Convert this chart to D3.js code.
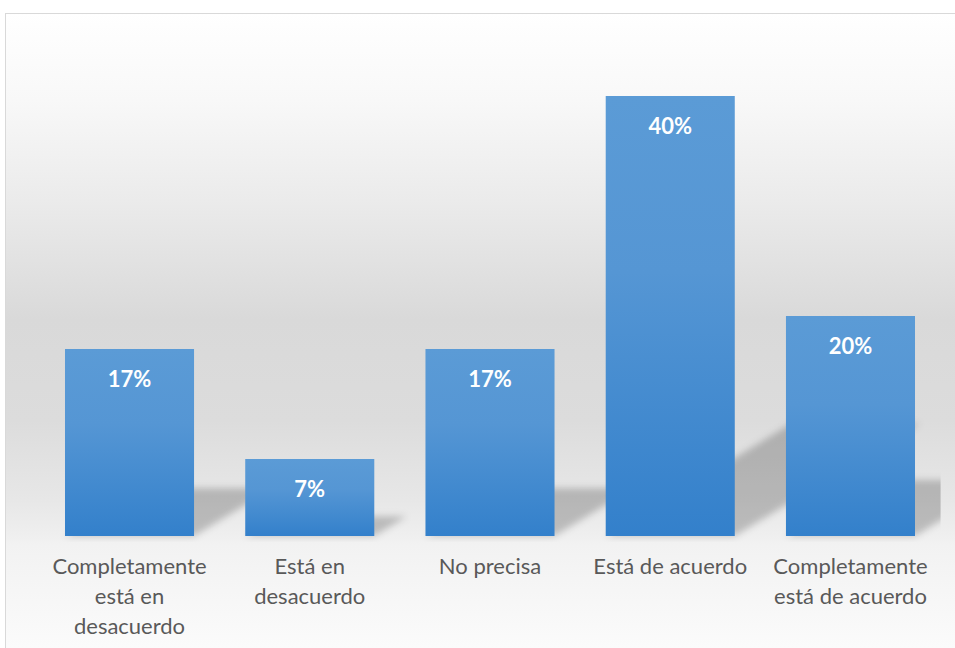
<!DOCTYPE html>
<html>
<head>
<meta charset="utf-8">
<script src="https://cdn.jsdelivr.net/npm/d3@7/dist/d3.min.js"></script>
<style>
  html, body { margin: 0; padding: 0; background: #ffffff; }
  svg { display: block; }
</style>
</head>
<body>
<svg id="chart" width="955" height="648"></svg>
<script>
// Survey answers and the share of respondents for each one
const categories = [
  "Completamente está en desacuerdo",
  "Está en desacuerdo",
  "No precisa",
  "Está de acuerdo",
  "Completamente está de acuerdo"
];
const tickLines = [
  ["Completamente", "está en", "desacuerdo"],
  ["Está en", "desacuerdo"],
  ["No precisa"],
  ["Está de acuerdo"],
  ["Completamente", "está de acuerdo"]
];
const values = [17, 7, 17, 40, 20];
const valueLabels = ["17%", "7%", "17%", "40%", "20%"];

const svg = d3.select("#chart");
const W = 955, H = 648;

const plot = { left: 39.4, right: 940.6, top: 41, bottom: 536 };

const x = d3.scaleBand()
  .domain(categories)
  .range([plot.left, plot.right])
  .paddingInner(0.284)
  .paddingOuter(0.142);

const y = d3.scaleLinear()
  .domain([0, 45])
  .range([plot.bottom, plot.top]);

const defs = svg.append("defs");

// chart background: light at top, grey band through the middle, light again at the bottom
const bg = defs.append("linearGradient")
  .attr("id", "bgGrad")
  .attr("gradientUnits", "userSpaceOnUse")
  .attr("x1", 0).attr("y1", 13).attr("x2", 0).attr("y2", 648);
[
  [13, "#ffffff"], [100, "#f8f8f8"], [200, "#ebebeb"], [320, "#d9d9d9"],
  [420, "#dcdcdc"], [500, "#e7e7e7"], [536, "#efefef"], [545, "#f2f2f2"], [648, "#fbfbfb"]
].forEach(([py, c]) => bg.append("stop").attr("offset", (py - 13) / 635).attr("stop-color", c));

// bar fill: lighter blue at the top, deeper blue at the base
const barGrad = defs.append("linearGradient")
  .attr("id", "barGrad")
  .attr("x1", 0).attr("y1", 0).attr("x2", 0).attr("y2", 1);
barGrad.append("stop").attr("offset", 0).attr("stop-color", "#5b9bd6");
barGrad.append("stop").attr("offset", 0.4).attr("stop-color", "#5596d4");
barGrad.append("stop").attr("offset", 1).attr("stop-color", "#3380cb");

defs.append("filter")
  .attr("id", "soft")
  .attr("x", "-50%").attr("y", "-50%").attr("width", "200%").attr("height", "200%")
  .append("feGaussianBlur").attr("stdDeviation", 3.5);

defs.append("clipPath").attr("id", "plotClip")
  .append("rect")
  .attr("x", plot.left).attr("y", 0)
  .attr("width", plot.right - plot.left).attr("height", plot.bottom + 6);

// chart area with its thin border
svg.append("rect")
  .attr("x", 5.5).attr("y", 13.5)
  .attr("width", W + 20).attr("height", H + 20)
  .attr("fill", "url(#bgGrad)")
  .attr("stroke", "#d9d9d9")
  .attr("stroke-width", 1);

// perspective shadows cast towards the upper right of each bar
const shadowG = svg.append("g").attr("clip-path", "url(#plotClip)");
shadowG.selectAll("path")
  .data(values)
  .join("path")
  .attr("d", (d, i) => {
    const x0 = x(categories[i]);
    const x1 = x0 + x.bandwidth();
    const base = y(0);
    const sh = (base - y(d)) * 0.255;
    const dx = sh * 1.65;
    return `M${x0},${base}L${x1},${base}L${x1 + dx},${base - sh}L${x0 + dx},${base - sh}Z`;
  })
  .attr("fill", "#000")
  .attr("fill-opacity", 0.21)
  .attr("filter", "url(#soft)");

// bars
svg.append("g").selectAll("rect")
  .data(values)
  .join("rect")
  .attr("x", (d, i) => x(categories[i]))
  .attr("y", d => y(d))
  .attr("width", x.bandwidth())
  .attr("height", d => y(0) - y(d))
  .attr("fill", "url(#barGrad)");

// value labels inside the top of each bar
svg.append("g").selectAll("text")
  .data(values)
  .join("text")
  .attr("x", (d, i) => x(categories[i]) + x.bandwidth() / 2)
  .attr("y", d => y(d) + 38)
  .attr("text-anchor", "middle")
  .attr("font-family", "Lato, 'Open Sans', sans-serif")
  .attr("font-weight", 700)
  .attr("font-size", 22)
  .attr("fill", "#ffffff")
  .text((d, i) => valueLabels[i]);

// category axis (no line, no ticks), labels wrapped over several lines
const xAxis = d3.axisBottom(x).tickSize(0).tickFormat("");
const axisG = svg.append("g")
  .attr("transform", `translate(0,${plot.bottom})`)
  .call(xAxis);
axisG.select(".domain").remove();

axisG.selectAll(".tick").each(function(d, i) {
  const t = d3.select(this).append("text")
    .attr("text-anchor", "middle")
    .attr("font-family", "Lato, 'Open Sans', sans-serif")
    .attr("font-size", 22)
    .attr("fill", "#595959");
  tickLines[i].forEach((line, k) => {
    t.append("tspan").attr("x", 0).attr("y", 38 + k * 30).text(line);
  });
});
</script>
</body>
</html>
